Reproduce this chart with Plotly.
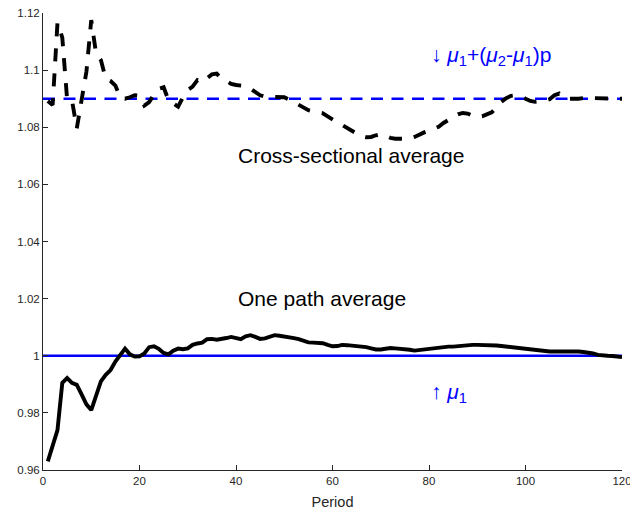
import plotly.graph_objects as go

periods = list(range(1, 121))

one_path = [
    0.963, 0.968, 0.974, 0.9905, 0.9922, 0.9905, 0.9898, 0.9865, 0.9830, 0.9810,
    0.9857, 0.9910, 0.9933, 0.9950, 0.9980, 1.0005, 1.0025, 1.0005, 0.9997, 0.9998,
    1.0008, 1.0030, 1.0033, 1.0024, 1.0010, 1.0005, 1.0018, 1.0025, 1.0023, 1.0026,
    1.0038, 1.0043, 1.0046, 1.0058, 1.0059, 1.0056, 1.0058, 1.0062, 1.0066, 1.0062,
    1.0058, 1.0068, 1.0072, 1.0066, 1.0059, 1.0061, 1.0068, 1.0072, 1.0070, 1.0068,
    1.0066, 1.0062, 1.0058, 1.0052, 1.0047, 1.0046, 1.0045, 1.0044, 1.0038, 1.0033,
    1.0034, 1.0038, 1.0037, 1.0036, 1.0035, 1.0033, 1.0030, 1.0026, 1.0022, 1.0022,
    1.0026, 1.0027, 1.0026, 1.0025, 1.0023, 1.0021, 1.0018, 1.0020, 1.0023, 1.0025,
    1.0028, 1.0030, 1.0031, 1.0032, 1.0032, 1.0034, 1.0036, 1.0037, 1.0038, 1.0038,
    1.0038, 1.0038, 1.0038, 1.0036, 1.0034, 1.0032, 1.0029, 1.0027, 1.0026, 1.0025,
    1.0023, 1.0021, 1.0018, 1.0015, 1.0015, 1.0015, 1.0015, 1.0018, 1.0017, 1.0016,
    1.0015, 1.0013, 1.0011, 1.0008, 1.0003, 1.0000, 1.0000, 0.9999, 0.9997, 0.9995,
]

cross_section = [
    1.0892, 1.0878, 1.1166, 1.1114, 1.0897, 1.0895, 1.0796, 1.0905, 1.0995, 1.1175,
    1.1058, 1.1035, 1.0970, 1.0962, 1.0946, 1.0904, 1.0900, 1.0905, 1.0912, 1.0910,
    1.0876, 1.0888, 1.0915, 1.0935, 1.0940, 1.0895, 1.0884, 1.0872, 1.0905, 1.0930,
    1.0942, 1.0965, 1.0958, 1.0970, 1.0985, 1.0988, 1.0970, 1.0962, 1.0952, 1.0948,
    1.0946, 1.0944, 1.0935, 1.0922, 1.0912, 1.0907, 1.0906, 1.0906, 1.0906, 1.0905,
    1.0897, 1.0888, 1.0878, 1.0868, 1.0860, 1.0856, 1.0852, 1.0849, 1.0838, 1.0826,
    1.0817, 1.0808, 1.0797, 1.0789, 1.0779, 1.0768, 1.0765, 1.0766, 1.0772, 1.0776,
    1.0770, 1.0763, 1.0760, 1.0759, 1.0759, 1.0760, 1.0766, 1.0775, 1.0782, 1.0788,
    1.0795, 1.0802, 1.0815, 1.0826, 1.0838, 1.0845, 1.0850, 1.0848, 1.0840, 1.0836,
    1.0838, 1.0845, 1.0852, 1.0870, 1.0889, 1.0902, 1.0910, 1.0912, 1.0908, 1.0900,
    1.0892, 1.0889, 1.0890, 1.0893, 1.0898, 1.0912, 1.0918, 1.0905, 1.0900, 1.0899,
    1.0900, 1.0902, 1.0904, 1.0902, 1.0901, 1.0903, 1.0902, 1.0901, 1.0900, 1.0900,
]

mu1 = 1.0
mix_mean = 1.09
ref_x = [0, 120]

x_ticks = [0, 20, 40, 60, 80, 100, 120]
y_ticks = [0.96, 0.98, 1.0, 1.02, 1.04, 1.06, 1.08, 1.1, 1.12]
y_tick_labels = ["0.96", "0.98", "1", "1.02", "1.04", "1.06", "1.08", "1.1", "1.12"]

FONT = "Liberation Sans, Arial, Helvetica, sans-serif"
AXC = "#262626"

fig = go.Figure()
fig.add_trace(go.Scatter(x=ref_x, y=[mix_mean, mix_mean], mode="lines",
                         line=dict(color="#0000ff", width=2.4, dash="12px,8.5px"),
                         showlegend=False, hoverinfo="skip"))
fig.add_trace(go.Scatter(x=ref_x, y=[mu1, mu1], mode="lines",
                         line=dict(color="#0000ff", width=2.3),
                         showlegend=False, hoverinfo="skip"))
fig.add_trace(go.Scatter(x=periods, y=cross_section, mode="lines",
                         line=dict(color="black", width=3.9, dash="13px,12px"),
                         showlegend=False))
fig.add_trace(go.Scatter(x=periods, y=one_path, mode="lines",
                         line=dict(color="black", width=3.9),
                         showlegend=False))

ann_font = dict(family=FONT, size=21, color="black")
blue_font = dict(family=FONT, size=21, color="#0000ff")
fig.add_annotation(x=40, y=1.07, text="Cross-sectional average", showarrow=False,
                   xanchor="left", yanchor="middle", font=ann_font)
fig.add_annotation(x=40, y=1.02, text="One path average", showarrow=False,
                   xanchor="left", yanchor="middle", font=ann_font)
fig.add_annotation(x=80, y=1.105,
                   text="↓ <i>μ</i><sub>1</sub>+(<i>μ</i><sub>2</sub>-<i>μ</i><sub>1</sub>)p",
                   showarrow=False, xanchor="left", yanchor="middle", font=blue_font)
fig.add_annotation(x=80, y=0.9868, text="↑ <i>μ</i><sub>1</sub>", showarrow=False,
                   xanchor="left", yanchor="middle", font=blue_font)

fig.update_xaxes(range=[0, 120], tickvals=x_ticks, ticktext=[str(v) for v in x_ticks],
                 showline=True, linecolor=AXC, linewidth=1, mirror=False,
                 ticks="inside", ticklen=5, tickcolor=AXC, tickwidth=1,
                 showgrid=False, zeroline=False, ticklabeloverflow="allow",
                 tickfont=dict(family=FONT, size=11.5, color=AXC),
                 title=dict(text="Period", font=dict(family=FONT, size=14.5, color=AXC), standoff=11))
fig.update_yaxes(range=[0.96, 1.12], tickvals=y_ticks, ticktext=y_tick_labels,
                 showline=True, linecolor=AXC, linewidth=1, mirror=False,
                 ticks="inside", ticklen=5, tickcolor=AXC, tickwidth=1,
                 showgrid=False, zeroline=False,
                 tickfont=dict(family=FONT, size=11.5, color=AXC))

fig.update_layout(width=630, height=511, autosize=False,
                  margin=dict(l=43, r=8, t=13, b=41, autoexpand=False),
                  paper_bgcolor="white", plot_bgcolor="white",
                  font=dict(family=FONT))

fig.write_html("out.html", include_plotlyjs=True, full_html=True,
               config={"displayModeBar": False})
